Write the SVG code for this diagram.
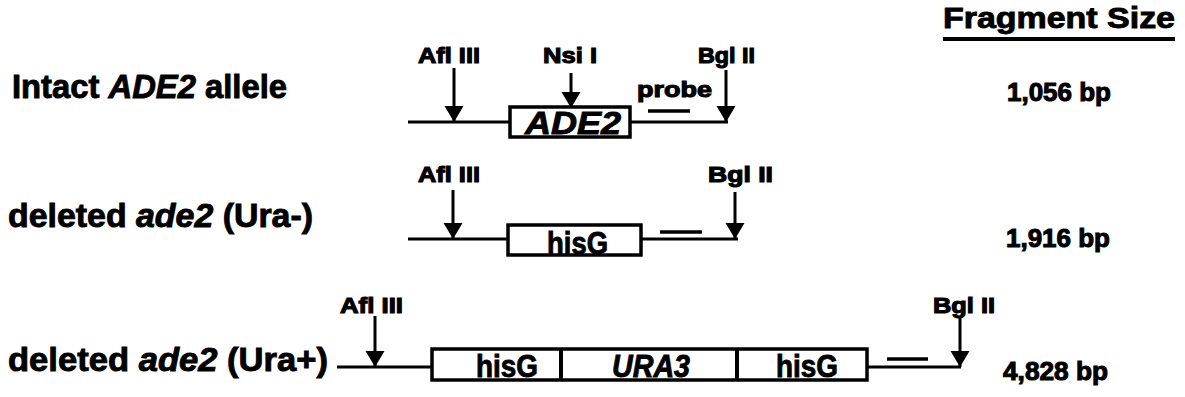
<svg xmlns="http://www.w3.org/2000/svg" width="1185" height="397" viewBox="0 0 1185 397">
<style>
text{font-family:"Liberation Sans",Arial,sans-serif;font-weight:700;fill:#000;stroke:#000;stroke-width:0.9}
.big{font-size:33px}
.site{font-size:22px;stroke-width:1.1}
.size{font-size:25px;stroke-width:1}
.gene{font-size:32px}
.it{font-style:italic}
.dna{stroke:#000;stroke-width:3;fill:none}
.box{stroke:#000;stroke-width:3.5;fill:#fff}
.arr{stroke:#000;stroke-width:3;fill:none;marker-end:url(#ah)}
.probe{stroke:#000;stroke-width:3.5}
</style>
<defs>
<marker id="ah" markerUnits="userSpaceOnUse" markerWidth="20" markerHeight="20" refX="16" refY="10" orient="auto">
<path d="M0,0.5 L16,10 L0,19.5 Z" fill="#000"/>
</marker>
</defs>
<rect width="1185" height="397" fill="#fff"/>

<g id="header">
<text x="943" y="28" font-size="30" stroke-width="1.1" textLength="232" lengthAdjust="spacingAndGlyphs">Fragment Size</text>
<line x1="943" y1="39" x2="1175" y2="39" stroke="#000" stroke-width="4"/>
</g>

<g id="connectors">
<line class="dna" x1="408" y1="122" x2="728" y2="122"/>
<line class="dna" x1="408" y1="239" x2="738" y2="239"/>
<line class="dna" x1="337" y1="367" x2="961" y2="367"/>
<line class="arr" x1="454" y1="68" x2="454" y2="122"/>
<line class="arr" x1="571" y1="73" x2="571" y2="108"/>
<line class="arr" x1="726" y1="70" x2="726" y2="122"/>
<line class="arr" x1="453" y1="190" x2="453" y2="239"/>
<line class="arr" x1="735" y1="192" x2="735" y2="239"/>
<line class="arr" x1="375" y1="316" x2="375" y2="367"/>
<line class="arr" x1="960" y1="316" x2="960" y2="367"/>
</g>

<g id="row1">
<text class="big" x="12" y="98" textLength="275" lengthAdjust="spacingAndGlyphs">Intact <tspan class="it">ADE2</tspan> allele</text>
<rect class="box" x="510" y="107" width="120" height="30"/>
<text class="gene it" x="525" y="134" textLength="96" lengthAdjust="spacingAndGlyphs">ADE2</text>
<text class="site" x="418" y="63" textLength="62" lengthAdjust="spacingAndGlyphs">Afl III</text>
<text class="site" x="543" y="63" textLength="54" lengthAdjust="spacingAndGlyphs">Nsi I</text>
<text class="site" x="698" y="63" textLength="57" lengthAdjust="spacingAndGlyphs">Bgl II</text>
<text class="site" x="637" y="97" textLength="75" lengthAdjust="spacingAndGlyphs">probe</text>
<line class="probe" x1="648" y1="111" x2="690" y2="111"/>
<text class="size" x="1007" y="101" textLength="104" lengthAdjust="spacingAndGlyphs">1,056 bp</text>
</g>

<g id="row2">
<text class="big" x="8" y="227" textLength="305" lengthAdjust="spacingAndGlyphs">deleted <tspan class="it">ade2</tspan> (Ura-)</text>
<rect class="box" x="508" y="225" width="133" height="30"/>
<text class="gene" x="547" y="254" textLength="61" lengthAdjust="spacingAndGlyphs">hisG</text>
<text class="site" x="418" y="182" textLength="62" lengthAdjust="spacingAndGlyphs">Afl III</text>
<text class="site" x="708" y="182" textLength="65" lengthAdjust="spacingAndGlyphs">Bgl II</text>
<line class="probe" x1="660" y1="232" x2="702" y2="232"/>
<text class="size" x="1006" y="247" textLength="104" lengthAdjust="spacingAndGlyphs">1,916 bp</text>
</g>

<g id="row3">
<text class="big" x="8" y="371" textLength="320" lengthAdjust="spacingAndGlyphs">deleted <tspan class="it">ade2</tspan> (Ura+)</text>
<rect class="box" x="432" y="349" width="435" height="31"/>
<line x1="561" y1="349" x2="561" y2="380" stroke="#000" stroke-width="4"/>
<line x1="737" y1="349" x2="737" y2="380" stroke="#000" stroke-width="4"/>
<text class="gene" x="476" y="377" textLength="62" lengthAdjust="spacingAndGlyphs">hisG</text>
<text class="gene it" x="612" y="377" textLength="78" lengthAdjust="spacingAndGlyphs">URA3</text>
<text class="gene" x="776" y="377" textLength="62" lengthAdjust="spacingAndGlyphs">hisG</text>
<text class="site" x="340" y="313" textLength="63" lengthAdjust="spacingAndGlyphs">Afl III</text>
<text class="site" x="933" y="313" textLength="62" lengthAdjust="spacingAndGlyphs">Bgl II</text>
<line class="probe" x1="887" y1="359" x2="928" y2="359"/>
<text class="size" x="1003" y="380" textLength="105" lengthAdjust="spacingAndGlyphs">4,828 bp</text>
</g>
</svg>
